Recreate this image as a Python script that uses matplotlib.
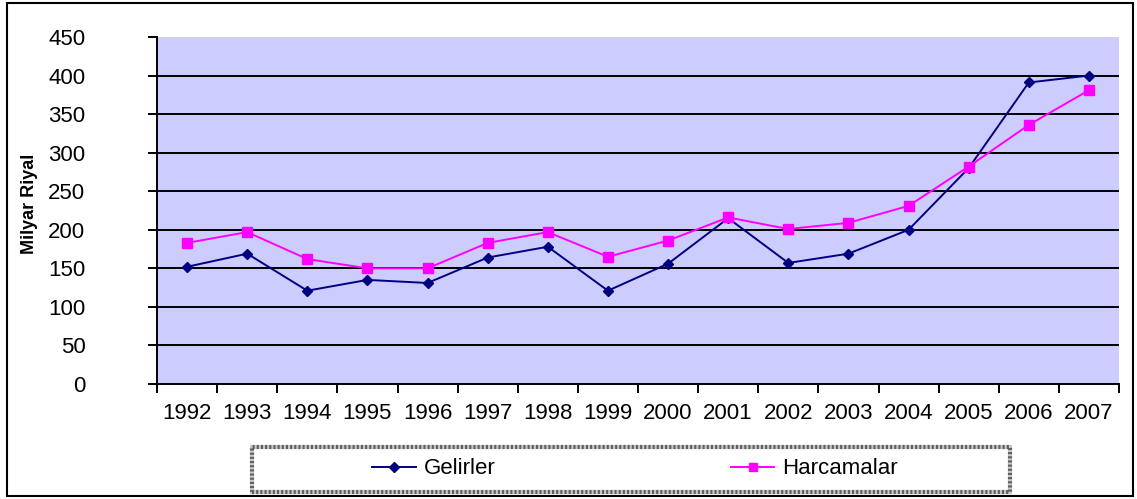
import matplotlib.pyplot as plt
from matplotlib.patches import Rectangle

plt.rcParams['font.family'] = ['Liberation Sans', 'DejaVu Sans']

# Data
years = ['1992', '1993', '1994', '1995', '1996', '1997', '1998', '1999',
         '2000', '2001', '2002', '2003', '2004', '2005', '2006', '2007']
gelirler = [152, 169, 121, 135, 131, 164, 178, 121, 156, 215, 157, 169, 200, 280, 391, 400]
harcamalar = [183, 197, 162, 150, 150, 183, 197, 165, 186, 216, 201, 209, 231, 282, 336, 381]
y_ticks = [0, 50, 100, 150, 200, 250, 300, 350, 400, 450]

W, H = 1137, 499
fig = plt.figure(figsize=(W / 100, H / 100), dpi=100)
ax = fig.add_axes([157 / W, 1 - 384 / H, 962 / W, 347 / H])
ax.set_facecolor('#CCCCFF')

x = list(range(len(years)))
ax.plot(x, gelirler, color='#000080', marker='D', markersize=5.5, linewidth=1.4,
        label='Gelirler', zorder=3)
ax.plot(x, harcamalar, color='#FF00FF', marker='s', markersize=7, linewidth=1.4,
        label='Harcamalar', zorder=3)

ax.set_xlim(-0.5, len(years) - 0.5)
ax.set_ylim(0, 450)
ax.set_yticks(y_ticks)
for v in y_ticks[1:-1]:
    ax.axhline(v, color='black', linewidth=1.4, zorder=1)

# category labels between boundary tick marks, Excel style
ax.set_xticks([i - 0.5 for i in range(len(years) + 1)])
ax.set_xticklabels([])
ax.set_xticks(x, minor=True)
ax.set_xticklabels(years, minor=True, fontsize=16)
ax.tick_params(axis='x', which='minor', length=0, pad=14)
ax.tick_params(axis='x', which='major', length=6.5, width=1.4, direction='out')
ax.tick_params(axis='y', length=6.5, width=1.4, direction='out', labelsize=16, pad=45)

for s in ['top', 'right']:
    ax.spines[s].set_visible(False)
ax.spines['left'].set_linewidth(1.4)
ax.spines['bottom'].set_linewidth(1.4)

ax.set_ylabel('Milyar Riyal', fontsize=13, fontweight='bold')
ax.yaxis.set_label_coords(-0.124, 0.52)

# legend, with a patterned box drawn separately
leg = ax.legend(loc='center', bbox_to_anchor=(635 / W, 1 - 469 / H),
                bbox_transform=fig.transFigure, ncol=2, fontsize=16,
                frameon=False, columnspacing=10.6, handlelength=1.95,
                handletextpad=0.36, markerscale=0.85)
box = dict(xy=(252 / W, 1 - 492 / H), width=758 / W, height=45 / H,
           transform=fig.transFigure, fill=False)
fig.patches.append(Rectangle(**box, edgecolor='#C8C8C8', linewidth=3))
fig.patches.append(Rectangle(**box, edgecolor='#606060', linewidth=3,
                             linestyle=(0, (0.5, 0.5))))

# outer border of the chart
fig.patches.append(Rectangle((7 / W, 1 - 496 / H), 1126 / W, 493 / H,
                             transform=fig.transFigure, fill=False,
                             edgecolor='black', linewidth=1.5))

plt.savefig('out.png', dpi=100)
